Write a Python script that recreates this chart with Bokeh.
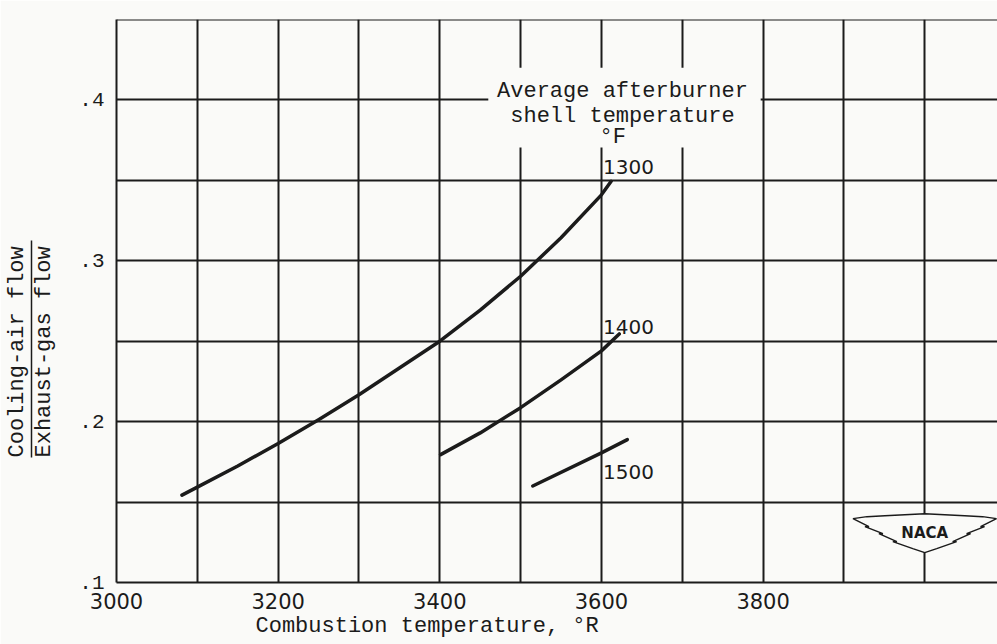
import numpy as np
from bokeh.plotting import figure
from bokeh.models import (Range1d, FixedTicker, Label, BoxAnnotation, Span, Title, LinearAxis,
                          CustomJSTickFormatter)
from bokeh.embed import file_html
from bokeh.resources import INLINE

# ---------------- data ----------------
t1300 = [3081, 3100, 3150, 3200, 3250, 3300, 3350, 3400, 3450, 3500, 3550, 3600, 3612]
r1300 = [0.1543, 0.1593, 0.1724, 0.1864, 0.2012, 0.2167, 0.2333, 0.2500, 0.2693, 0.2904, 0.3143, 0.3410, 0.3494]
t1400 = [3401, 3450, 3500, 3550, 3600, 3622]
r1400 = [0.1795, 0.1930, 0.2087, 0.2260, 0.2440, 0.2545]
t1500 = [3515, 3600, 3632]
r1500 = [0.1600, 0.1806, 0.1888]
curve_names = ["1300", "1400", "1500"]

x_major = [3000, 3200, 3400, 3600, 3800]
x_minor = [3100, 3300, 3500, 3700, 3900, 4000]
y_major = [0.1, 0.2, 0.3, 0.4]
y_minor = [0.15, 0.25, 0.35, 0.45]

INK = "#1b1b1b"
BG = "#fafaf8"
MONO = "Liberation Mono"
SANS = "DejaVu Sans"

p = figure(width=997, height=644, x_range=Range1d(3000, 4090), y_range=Range1d(0.1, 0.45),
           output_backend="svg", toolbar_location=None,
           min_border_left=113, min_border_right=0, min_border_top=19, min_border_bottom=62)
p.background_fill_color = BG
p.border_fill_color = BG
p.outline_line_color = None

# axes
p.xaxis.ticker = FixedTicker(ticks=x_major, minor_ticks=x_minor)
p.yaxis.ticker = FixedTicker(ticks=y_major, minor_ticks=y_minor)
p.yaxis.formatter = CustomJSTickFormatter(code="return tick.toFixed(1).replace(/^0/, '');")
for ax in (p.xaxis[0], p.yaxis[0]):
    ax.axis_line_color = INK
    ax.axis_line_width = 2
    ax.major_tick_line_color = None
    ax.minor_tick_line_color = None
    ax.major_tick_out = 0
    ax.minor_tick_out = 0
    ax.major_label_text_color = INK
p.xaxis.major_label_text_font = SANS
p.xaxis.major_label_text_font_size = "21px"
p.xaxis.major_label_standoff = 10
p.yaxis.major_label_text_font = MONO
p.yaxis.major_label_text_font_size = "21px"
p.yaxis.major_label_standoff = 12

for g in (p.xgrid[0], p.ygrid[0]):
    g.grid_line_color = INK
    g.grid_line_width = 2
    g.grid_line_alpha = 1
    g.minor_grid_line_color = INK
    g.minor_grid_line_width = 2

p.add_layout(Span(location=0.45, dimension="width", line_color=INK, line_width=2))

# curves
for xs, ys in ((t1300, r1300), (t1400, r1400), (t1500, r1500)):
    p.line(xs, ys, line_color=INK, line_width=3.5, line_cap="round", line_join="round")

# curve labels
for name, ys, dy in zip(curve_names, (r1300, r1400, r1500), (0.0086, 0.0042, -0.0198)):
    p.add_layout(Label(x=3602, y=ys[-1] + dy, text=name, text_font=SANS, text_font_size="20px",
                       text_color=INK, text_align="left", text_baseline="alphabetic"))

# title block inside the grid (blank patch hides grid lines)
p.add_layout(BoxAnnotation(left=3460, right=3797, bottom=0.3705, top=0.420,
                           fill_color=BG, fill_alpha=1, line_color=None))
for txt, xx, yy in (("Average afterburner", 3626, 0.4053), ("shell temperature", 3626, 0.3898),
                    ("°F", 3614, 0.3767)):
    p.add_layout(Label(x=xx, y=yy, text=txt, text_font=MONO, text_font_size="22px",
                       text_color=INK, text_align="center", text_baseline="alphabetic"))

# x-axis title (below panel)
p.add_layout(Title(text="Combustion temperature, °R", align="left", offset=139, standoff=0,
                   text_font=MONO, text_font_size="22px", text_font_style="normal",
                   text_color=INK), "below")

# y-axis title as a fraction (left panels, from the frame outward)
p.add_layout(Title(text=" ", text_font_size="1px", standoff=15, text_color=BG), "left")
p.add_layout(Title(text="Exhaust-gas flow", align="left", offset=125, standoff=0,
                   vertical_align="top", text_font=MONO, text_font_size="22px",
                   text_font_style="normal", text_color=INK), "left")
bar = LinearAxis(ticker=FixedTicker(ticks=[]), bounds=(0.1776, 0.3124),
                 axis_line_color=INK, axis_line_width=1.5,
                 major_tick_line_color=None, minor_tick_line_color=None,
                 major_tick_out=0, minor_tick_out=0, major_label_text_font_size="0px",
                 major_label_standoff=0)
p.add_layout(bar, "left")
p.add_layout(Title(text="Cooling-air flow", align="left", offset=125, standoff=4,
                   vertical_align="bottom", text_font=MONO, text_font_size="22px",
                   text_font_style="normal", text_color=INK), "left")

# NACA emblem (decoration)
cx, cy = 4000, 0.1310
sx, sy = 100 / 81.1, 0.05 / 80.4
right_top = [(0, 19), (20, 18), (40, 17), (58, 16), (72, 14)]
right_bot = [(72, 14), (56, 6), (60, 6), (42, -1), (46, -1), (28, -9), (32, -9), (12, -16), (0, -20)]
pts = right_top + right_bot[1:]
left = [(-a, b) for a, b in reversed(pts)][1:-1]
pts = pts + left
p.patch([cx + a * sx for a, b in pts], [cy + b * sy for a, b in pts],
        fill_color=BG, line_color=INK, line_width=1.5)
p.add_layout(Label(x=cx, y=cy, text="NACA", text_font=SANS, text_font_style="bold",
                   text_font_size="15px", text_color=INK, text_align="center",
                   text_baseline="middle"))

open("out.html", "w").write(file_html(p, INLINE))
